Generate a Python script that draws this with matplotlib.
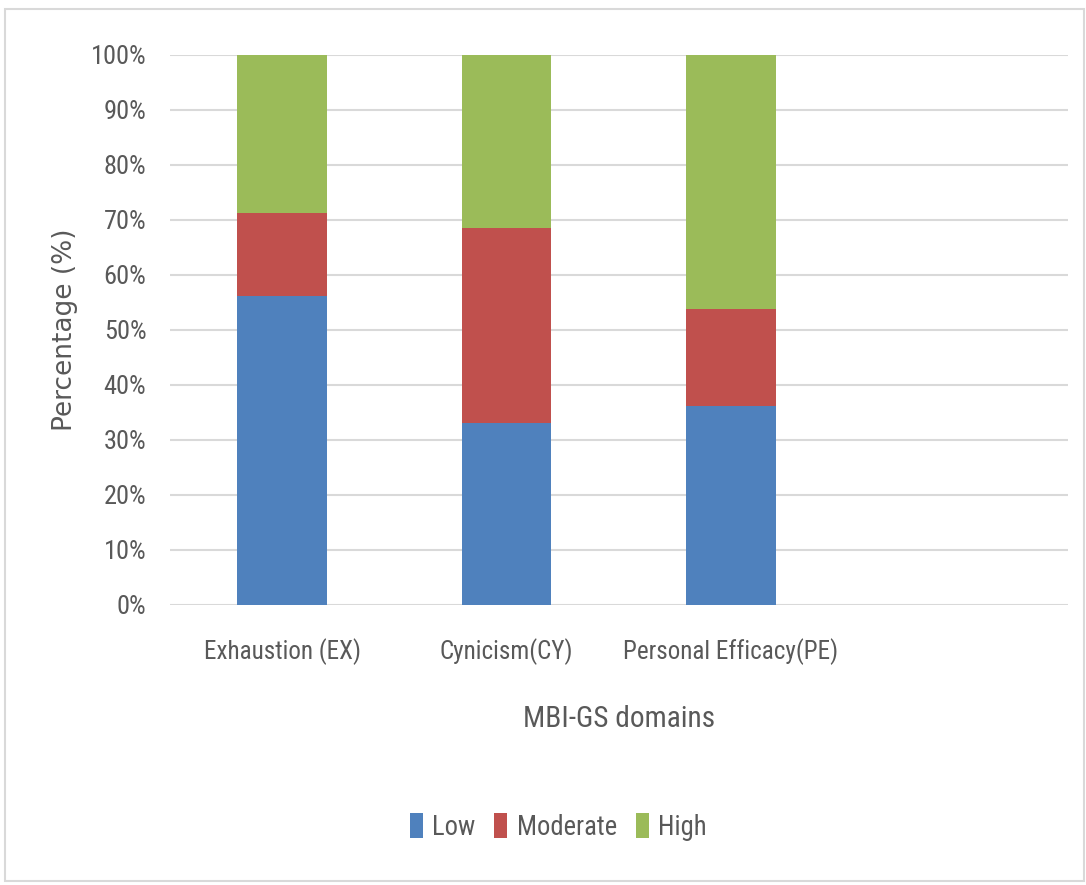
import numpy as np
import matplotlib
matplotlib.use("Agg")
import matplotlib.pyplot as plt
from matplotlib import font_manager
from matplotlib.font_manager import FontProperties
from matplotlib.patches import Rectangle

# data (percent)
categories = ["Exhaustion (EX)", "Cynicism(CY)", "Personal Efficacy(PE)", ""]
low = [56.2, 33.1, 36.1, 0]
moderate = [15.1, 35.4, 17.7, 0]
high = [28.7, 31.5, 46.2, 0]
series_names = ["Low", "Moderate", "High"]
series_colors = ["#4F81BD", "#C0504D", "#9BBB59"]

text_gray = "#595959"


def pick_narrow_font():
    # the reference uses a squeezed Calibri look; take the narrowest face we have
    entries = font_manager.fontManager.ttflist
    cands = [("Liberation Sans Narrow", "normal"), ("Roboto Condensed", "normal"),
             ("Open Sans Condensed", "normal"), ("Noto Sans Condensed", "normal"),
             ("DejaVu Sans", "condensed"), ("Noto Sans", "condensed"),
             ("Open Sans", "condensed"), ("Lato", "normal")]
    for name, stretch in cands:
        for f in entries:
            if f.name == name and (stretch == "normal" or str(f.stretch) == stretch):
                return name, stretch
    return "DejaVu Sans", "normal"


fam, stretch = pick_narrow_font()

fig = plt.figure(figsize=(10.86, 8.85), dpi=100)
renderer = fig.canvas.get_renderer()


def fit(s, target_px, family=fam, fstretch=stretch):
    # font size (pt) that makes string s about target_px wide
    t = fig.text(0, 0, s, fontproperties=FontProperties(family=family, stretch=fstretch, size=10))
    w = t.get_window_extent(renderer).width
    t.remove()
    return 10 * target_px / w


tick_fp = FontProperties(family=fam, stretch=stretch, size=fit("Exhaustion (EX)", 157))
ytick_fp = FontProperties(family=fam, stretch=stretch, size=fit("100%", 55))
xlabel_fp = FontProperties(family=fam, stretch=stretch, size=fit("MBI-GS domains", 192))
legend_fp = FontProperties(family=fam, stretch=stretch, size=fit("Moderate", 100))

ax = fig.add_axes([0.1565, 0.3164, 0.8265, 0.6215])

x = np.arange(len(categories))
bottom = np.zeros(len(categories))
handles = []
for name, vals, col in zip(series_names, [low, moderate, high], series_colors):
    vals = np.array(vals)
    h = ax.bar(x, vals, width=0.4, bottom=bottom, color=col, label=name, zorder=2)
    handles.append(h)
    bottom += vals

ax.set_xlim(-0.5, len(categories) - 0.5)
ax.set_ylim(0, 100)
ax.set_yticks(np.arange(0, 101, 10))
ax.set_yticklabels([f"{v}%" for v in range(0, 101, 10)], fontproperties=ytick_fp,
                   color=text_gray)
ax.set_xticks(x)
ax.set_xticklabels(categories, fontproperties=tick_fp, color=text_gray)
ax.tick_params(axis="both", length=0)
ax.tick_params(axis="y", pad=17)
ax.tick_params(axis="x", pad=24)
ax.grid(axis="y", color="#d9d9d9", linewidth=1.5, zorder=0)
for s in ax.spines.values():
    s.set_visible(False)

ax.set_xlabel("MBI-GS domains", fontproperties=xlabel_fp, color=text_gray,
              labelpad=29)
ax.set_ylabel("Percentage (%)", family="DejaVu Sans", fontsize=19,
              color=text_gray, labelpad=9)

fig.legend(handles=handles, labels=series_names, loc="center",
           bbox_to_anchor=(0.514, 0.066), ncol=3, frameon=False,
           prop=legend_fp, labelcolor=text_gray,
           handlelength=0.5, handleheight=1.1, handletextpad=0.35,
           columnspacing=0.7)

# chart-area border
fig.patches.append(Rectangle((0.005, 0.005), 0.993, 0.985,
                             transform=fig.transFigure, fill=False,
                             edgecolor="#d9d9d9", linewidth=1.5))

fig.savefig("out.png", dpi=100)
